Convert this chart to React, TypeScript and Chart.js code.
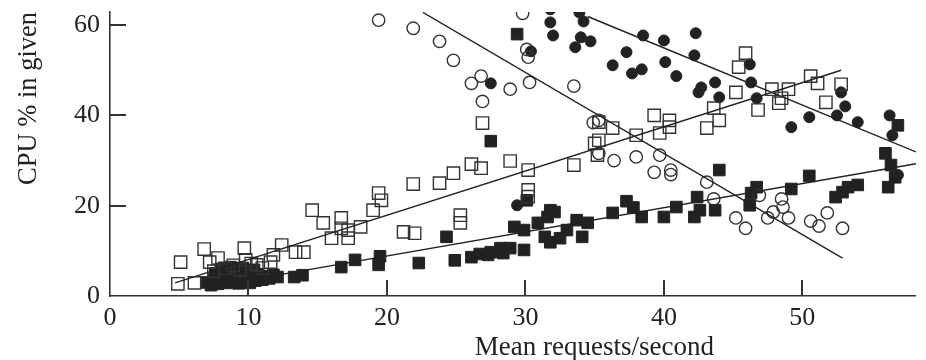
import React, { useEffect, useRef } from "react";
import { Chart, registerables } from "chart.js";

Chart.register(...registerables);

const X_TICKS = [0, 10, 20, 30, 40, 50];
const Y_TICKS = [0, 20, 40, 60];
const X_TITLE = "Mean requests/second";
const Y_TITLE = "CPU % in given";

const openCircles: [number, number][] = [
  [19.4, 61.1], [21.9, 59.3], [23.8, 56.4], [24.8, 52.2], [26.1, 47.1], [26.8, 48.7],
  [26.9, 43.1], [28.9, 45.8], [30.3, 47.3], [30.1, 54.6], [30.2, 52.9], [29.8, 62.6],
  [33.5, 46.5], [34.9, 38.4], [35.3, 38.9], [35.3, 31.6], [36.4, 30.0], [38.0, 30.8],
  [39.7, 31.2], [39.3, 27.4], [40.5, 27.9], [40.5, 26.9], [43.1, 25.2], [43.6, 21.5],
  [45.2, 17.3], [45.9, 15.0], [46.9, 22.3], [47.5, 17.3], [47.9, 18.6], [48.5, 21.5],
  [48.6, 19.7], [49.0, 17.3], [50.6, 16.6], [51.2, 15.5], [51.8, 18.4], [52.9, 15.0],
];

const filledCircles: [number, number][] = [
  [29.4, 20.1], [27.5, 47.1], [30.4, 54.2], [31.8, 60.6], [32.0, 57.7], [31.8, 63.5],
  [33.9, 62.8], [34.2, 60.8], [34.0, 57.3], [34.7, 56.4], [33.6, 55.1], [36.3, 51.1],
  [37.3, 54.0], [37.7, 49.3], [38.4, 50.2], [38.5, 57.7], [40.0, 56.6], [40.1, 51.8],
  [40.9, 48.7], [42.3, 58.2], [42.2, 53.3], [43.7, 47.3], [42.5, 45.1], [42.7, 46.2],
  [44.0, 44.0], [46.2, 51.3], [46.3, 47.3], [46.7, 43.8], [49.2, 37.4], [50.5, 39.6],
  [52.5, 40.0], [52.8, 45.1], [53.1, 42.0], [54.0, 38.5], [56.3, 40.0], [56.5, 35.6],
  [56.9, 26.8],
];

const openSquares: [number, number][] = [
  [4.9, 2.7], [5.1, 7.5], [6.1, 2.9], [6.8, 10.4], [7.2, 7.5], [7.8, 8.4], [7.5, 5.5],
  [8.3, 6.1], [8.9, 6.8], [9.4, 5.8], [9.7, 10.6], [9.8, 8.0], [10.2, 7.2], [10.6, 6.9],
  [11.0, 6.2], [11.6, 7.5], [11.8, 9.1], [12.4, 11.3], [13.4, 9.7], [14.0, 9.7],
  [14.6, 19.0], [15.4, 16.2], [16.0, 12.8], [16.7, 17.3], [16.7, 15.0], [17.2, 12.8],
  [17.2, 14.6], [18.1, 15.3], [19.0, 19.0], [19.4, 22.8], [19.6, 21.2], [21.2, 14.2],
  [22.0, 13.9], [21.9, 24.8], [23.8, 25.0], [24.8, 27.2], [25.3, 17.9], [25.3, 16.2],
  [26.1, 29.2], [26.8, 28.3], [26.9, 38.3], [28.9, 29.9], [30.2, 27.9], [30.2, 23.5],
  [30.2, 22.0], [33.5, 29.0], [35.3, 38.5], [35.3, 34.5], [35.0, 33.8], [35.2, 31.2],
  [36.3, 37.2], [38.0, 35.6], [39.3, 40.0], [39.7, 36.1], [40.4, 38.9], [40.4, 37.4],
  [43.1, 37.2], [43.6, 41.6], [44.0, 38.9], [45.2, 45.1], [45.4, 50.7], [45.9, 53.8],
  [46.8, 41.2], [47.8, 45.8], [48.3, 42.7], [48.5, 43.8], [49.0, 45.8], [50.6, 48.7],
  [51.1, 47.1], [51.7, 42.9], [52.8, 46.9],
];

const filledSquares: [number, number][] = [
  [7.0, 3.0], [7.3, 2.4], [7.5, 3.6], [7.8, 2.7], [8.0, 4.4], [8.2, 3.2], [8.4, 5.3],
  [8.6, 2.9], [8.8, 4.0], [9.0, 3.4], [9.1, 5.6], [9.3, 2.8], [9.5, 4.3], [9.7, 3.5],
  [9.9, 5.0], [10.1, 2.9], [10.3, 4.1], [10.5, 3.4], [10.7, 4.8], [11.0, 3.6], [11.2, 4.4],
  [11.5, 3.9], [11.8, 4.7], [12.1, 4.2], [8.0, 6.0], [8.7, 6.4], [9.6, 6.2], [10.4, 5.8],
  [7.6, 5.0], [13.3, 4.2], [13.9, 4.6], [16.7, 6.4], [17.7, 8.0], [19.4, 6.9], [19.5, 8.8],
  [22.3, 7.3], [24.3, 13.1], [24.9, 7.9], [26.1, 8.6], [26.7, 9.3], [27.3, 9.1], [27.5, 9.7],
  [28.2, 10.6], [28.4, 9.5], [28.9, 10.6], [29.9, 10.2], [29.2, 15.3], [29.9, 14.6],
  [30.1, 21.2], [30.9, 16.2], [31.6, 17.5], [32.1, 18.6], [31.8, 19.0], [31.4, 13.1],
  [31.8, 11.9], [32.5, 12.8], [33.0, 14.6], [33.7, 16.8], [34.5, 16.2], [34.1, 13.1],
  [36.3, 18.4], [37.3, 21.0], [37.8, 19.6], [38.4, 17.5], [40.0, 17.5], [40.9, 19.7],
  [42.4, 21.9], [42.2, 17.5], [42.6, 19.0], [43.7, 19.0], [44.0, 27.9], [46.3, 22.8],
  [46.7, 24.1], [46.2, 20.1], [49.2, 23.7], [50.5, 26.6], [52.4, 21.9], [52.9, 23.0],
  [53.3, 24.1], [54.0, 24.6], [56.0, 31.6], [56.4, 29.0], [56.2, 24.1], [56.7, 26.3],
  [56.9, 37.8], [29.4, 58.0], [27.5, 34.3],
];

// trend lines: [start, end]
const openCircleFit: [number, number][] = [[22.6, 62.8], [52.9, 8.4]];
const filledCircleFit: [number, number][] = [[34.5, 61.9], [58.2, 31.9]];
const openSquareFit: [number, number][] = [[4.7, 2.9], [52.8, 50.0]];
const filledSquareFit: [number, number][] = [[7.0, 1.9], [58.2, 29.3]];

const INK = "#222";
const FONT = '"Liberation Serif", "Times New Roman", serif';
const TICK_LEN = 16;

const toXY = (arr: [number, number][]) => arr.map(([x, y]) => ({ x, y }));

const decorPlugin = {
  id: "decorPlugin",
  afterDraw(chart: any) {
    const { ctx, chartArea } = chart;
    const xs = chart.scales.x;
    const ys = chart.scales.y;
    ctx.save();
    ctx.fillStyle = "#333";
    X_TICKS.forEach((v) => {
      if (v === 0) return;
      const px = Math.round(xs.getPixelForValue(v));
      ctx.fillRect(px - 1, chartArea.bottom - TICK_LEN, 2, TICK_LEN);
    });
    Y_TICKS.forEach((v) => {
      if (v === 0) return;
      const py = Math.round(ys.getPixelForValue(v));
      ctx.fillRect(chartArea.left, py - 1, TICK_LEN, 2);
    });
    ctx.font = `27px ${FONT}`;
    ctx.fillStyle = INK;
    ctx.textAlign = "center";
    ctx.textBaseline = "alphabetic";
    ctx.fillText(X_TITLE, chartArea.left + 0.601 * (chartArea.right - chartArea.left), chart.height - 5);
    ctx.restore();
  },
};

export default function App() {
  const ref = useRef<HTMLCanvasElement | null>(null);

  useEffect(() => {
    if (!ref.current) return;
    const lineDs = (pts: [number, number][]) => ({
      type: "line" as const,
      data: toXY(pts),
      borderColor: INK,
      borderWidth: 1.4,
      pointRadius: 0,
      fill: false,
      clip: 0,
    });
    const chart = new Chart(ref.current, {
      type: "scatter",
      data: {
        datasets: [
          lineDs(openCircleFit),
          lineDs(filledCircleFit),
          lineDs(openSquareFit),
          lineDs(filledSquareFit),
          { data: toXY(openCircles), pointStyle: "circle", pointRadius: 6.2, backgroundColor: "rgba(0,0,0,0)", borderColor: "#333", borderWidth: 1.4, clip: 0 },
          { data: toXY(openSquares), pointStyle: "rect", pointRadius: 8.7, backgroundColor: "rgba(0,0,0,0)", borderColor: "#333", borderWidth: 1.4, clip: 0 },
          { data: toXY(filledCircles), pointStyle: "circle", pointRadius: 5.5, backgroundColor: INK, borderColor: INK, borderWidth: 1, clip: 0 },
          { data: toXY(filledSquares), pointStyle: "rect", pointRadius: 8.2, backgroundColor: INK, borderColor: INK, borderWidth: 1, clip: 0 },
        ] as any,
      },
      options: {
        animation: false,
        responsive: true,
        maintainAspectRatio: false,
        layout: { padding: { top: 12, right: 6, bottom: 0, left: 0 } },
        plugins: { legend: { display: false }, tooltip: { enabled: false } },
        scales: {
          x: {
            type: "linear", min: 0, max: 58.2,
            afterBuildTicks: (s: any) => { s.ticks = X_TICKS.map((v) => ({ value: v })); },
            afterFit: (s: any) => { s.height = 64; s.paddingLeft = 0; s.paddingRight = 0; },
            grid: { drawOnChartArea: false, drawTicks: false },
            border: { display: true, color: "#333", width: 1.6 },
            ticks: { color: INK, font: { family: FONT, size: 26 }, padding: 7, maxRotation: 0 },
          },
          y: {
            type: "linear", min: 0, max: 62.9,
            afterBuildTicks: (s: any) => { s.ticks = Y_TICKS.map((v) => ({ value: v })); },
            afterFit: (s: any) => { s.width = 110; s.paddingTop = 0; s.paddingBottom = 0; },
            grid: { drawOnChartArea: false, drawTicks: false },
            border: { display: true, color: "#333", width: 1.6 },
            ticks: { color: INK, font: { family: FONT, size: 26 }, padding: 10 },
            title: { display: true, text: Y_TITLE, align: "end", color: INK, font: { family: FONT, size: 26.5 }, padding: { top: 13, bottom: 0 } },
          },
        },
      },
      plugins: [decorPlugin],
    });
    return () => chart.destroy();
  }, []);

  return (
    <div style={{ position: "absolute", left: 0, top: 0, width: 926, height: 360, background: "#fff" }}>
      <canvas ref={ref} />
    </div>
  );
}
